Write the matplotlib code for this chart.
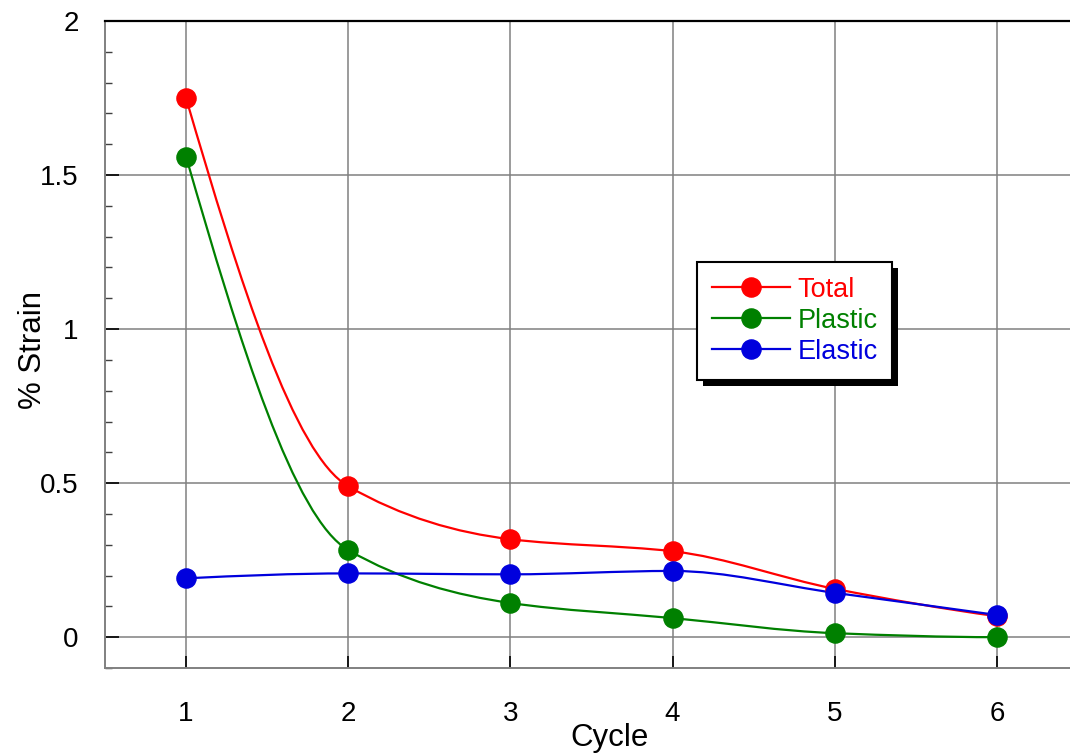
import numpy as np
import matplotlib
matplotlib.use("Agg")
import matplotlib.pyplot as plt
from matplotlib.path import Path
from matplotlib.patches import PathPatch, Rectangle
from matplotlib.lines import Line2D
from matplotlib.ticker import MultipleLocator, FormatStrFormatter

plt.rcParams['font.family'] = ['Liberation Sans', 'DejaVu Sans']

cycles = [1, 2, 3, 4, 5, 6]
total = [1.75, 0.49, 0.318, 0.279, 0.157, 0.068]
plastic = [1.56, 0.283, 0.111, 0.062, 0.013, 0.0]
elastic = [0.191, 0.207, 0.204, 0.215, 0.144, 0.072]

series = [("Total", total, "#ff0000"),
          ("Plastic", plastic, "#008000"),
          ("Elastic", elastic, "#0000dd")]


def smooth_path(x, y):
    # monotone cubic (pchip-style) tangents, drawn as bezier segments
    x = np.asarray(x, float)
    y = np.asarray(y, float)
    h = np.diff(x)
    d = np.diff(y) / h
    n = len(x)
    m = np.zeros(n)
    for k in range(1, n - 1):
        if d[k - 1] * d[k] <= 0:
            m[k] = 0.0
        else:
            w1 = 2 * h[k] + h[k - 1]
            w2 = h[k] + 2 * h[k - 1]
            m[k] = (w1 + w2) / (w1 / d[k - 1] + w2 / d[k])
    m0 = ((2 * h[0] + h[1]) * d[0] - h[0] * d[1]) / (h[0] + h[1])
    if np.sign(m0) != np.sign(d[0]):
        m0 = 0.0
    m[0] = m0
    mn = ((2 * h[-1] + h[-2]) * d[-1] - h[-1] * d[-2]) / (h[-1] + h[-2])
    if np.sign(mn) != np.sign(d[-1]):
        mn = 0.0
    m[-1] = mn
    verts = [(x[0], y[0])]
    codes = [Path.MOVETO]
    for i in range(n - 1):
        verts += [(x[i] + h[i] / 3, y[i] + m[i] * h[i] / 3),
                  (x[i + 1] - h[i] / 3, y[i + 1] - m[i + 1] * h[i] / 3),
                  (x[i + 1], y[i + 1])]
        codes += [Path.CURVE4] * 3
    return Path(verts, codes)


fig = plt.figure(figsize=(10.7, 7.53), dpi=100)
ax = fig.add_axes([0.0981, 0.1129, 0.9093, 0.8592])

handles = []
for name, vals, col in series:
    ax.add_patch(PathPatch(smooth_path(cycles, vals), facecolor='none',
                           edgecolor=col, lw=1.6, zorder=3))
    ax.plot(cycles, vals, 'o', color=col, ms=13.8, zorder=4)
    handles.append(Line2D([], [], color=col, lw=1.6, marker='o', ms=13.8))

ax.set_xlim(0.5, 6.5)
ax.set_ylim(-0.1, 2.0)
ax.set_xticks(cycles)
ax.yaxis.set_major_locator(MultipleLocator(0.5))
ax.yaxis.set_minor_locator(MultipleLocator(0.1))
ax.yaxis.set_major_formatter(FormatStrFormatter('%g'))

ax.grid(True, which='major', color='#808080', lw=1.1, zorder=1)
ax.set_axisbelow(True)

ax.tick_params(axis='x', direction='in', length=9, width=1.2, color='black',
               labelsize=20, pad=24)
ax.tick_params(axis='y', which='major', direction='in', length=10, width=1.2,
               color='black', labelsize=20, pad=19)
ax.tick_params(axis='y', which='minor', direction='in', length=5, width=1.0,
               color='#404040')

ax.spines['right'].set_visible(False)
ax.spines['top'].set_color('black')
ax.spines['top'].set_linewidth(1.6)
ax.spines['left'].set_color('#808080')
ax.spines['left'].set_linewidth(1.4)
ax.spines['bottom'].set_color('#808080')
ax.spines['bottom'].set_linewidth(1.4)

fig.text(610 / 1070, 1 - 738 / 753, 'Cycle', ha='center', va='center', fontsize=22.5)
fig.text(33 / 1070, 1 - 350 / 753, '% Strain', ha='center', va='center',
         rotation=90, fontsize=22.5)

leg = ax.legend(handles, [s[0] for s in series], loc='upper left',
                bbox_to_anchor=(0.6084, 0.6275), borderaxespad=0,
                fontsize=19.5, frameon=True, fancybox=False, shadow=False,
                handlelength=2.9, handletextpad=0.26, labelspacing=0.18,
                borderpad=0.55, labelcolor='linecolor', framealpha=1)
leg.get_frame().set_edgecolor('black')
leg.get_frame().set_linewidth(1.5)
leg.set_zorder(6)

# black drop shadow behind legend box
fig.canvas.draw()
bb = leg.get_window_extent().transformed(ax.transAxes.inverted())
dx = 6 / (0.9093 * 1070)
dy = 6 / (0.8592 * 753)
ax.add_patch(Rectangle((bb.x0 + dx, bb.y0 - dy), bb.width, bb.height,
                       facecolor='black', edgecolor='none',
                       transform=ax.transAxes, zorder=5.5, clip_on=False))

fig.savefig('out.png', dpi=100)
